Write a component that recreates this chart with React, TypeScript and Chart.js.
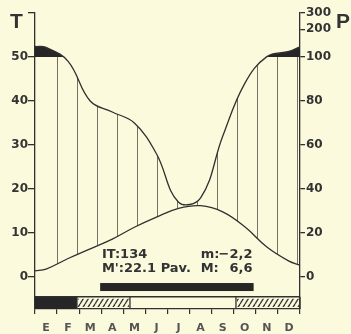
import React, { useEffect, useRef } from "react";
import { Chart, registerables } from "chart.js";

Chart.register(...registerables);

// ---------- data ----------
const months = ["E", "F", "M", "A", "M", "J", "J", "A", "S", "O", "N", "D"];
// positions of the read points on the month axis (0 = start of Jan, 12 = end of Dec)
const pointPos = [0, 0.5, 1.5, 2.5, 3.5, 4.5, 5.5, 6.5, 7.5, 8.5, 9.5, 10.5, 11.5, 12];
// temperature (°C) read at those positions
const temperature = [1.4, 1.8, 4.2, 6.4, 8.6, 11.3, 13.6, 15.6, 16.2, 14.8, 11.4, 6.8, 3.6, 2.7];
// precipitation (mm) read at those positions
const precipitation = [130, 127, 98, 80, 75, 70, 56, 34, 36, 64, 88, 101, 115, 129];
const tempTicks = [0, 10, 20, 30, 40, 50];
const precipTicks = [0, 20, 40, 60, 80, 100, 200, 300];
// bottom strip (month-axis ranges)
const certainFrost: [number, number][] = [[0, 1.9]];
const probableFrost: [number, number][] = [[1.9, 4.3], [9.1, 12]];
const darkBar: [number, number] = [2.95, 9.9];
const statsLeft = ["IT:134", "M':22.1 Pav."];
const statsRight: [string, string][] = [["m:", "\u22122,2"], ["M:", "6,6"]];

// ---------- styles / geometry ----------
const BG = "#fcfadc";
const INK = "#303030";
const TEXT = "#333333";
const HATCH = "rgba(70,70,62,0.75)";
const Y_MIN = -7.2727;
const Y_MAX = 60;
const LOG_STEP = 6.3; // T-units per doubling of precipitation above 100 mm
const BAR_TOP = -1.37;
const BAR_BOTTOM = -3.19;
const BOX_TOP = -4.49;

const pToV = (p: number) => (p <= 100 ? p / 2 : 50 + LOG_STEP * Math.log2(p / 100));

function verticalHatch(): CanvasPattern {
  const c = document.createElement("canvas");
  c.width = 20;
  c.height = 4;
  const g = c.getContext("2d")!;
  g.fillStyle = HATCH;
  g.fillRect(17, 0, 1, 4);
  return g.createPattern(c, "repeat")!;
}

function diagonalHatch(): CanvasPattern {
  const w = 5, h = 8;
  const c = document.createElement("canvas");
  c.width = w;
  c.height = h;
  const g = c.getContext("2d")!;
  g.strokeStyle = "#3a3a3a";
  g.lineWidth = 1.4;
  for (const dx of [-w, 0, w]) {
    g.beginPath();
    g.moveTo(dx, h);
    g.lineTo(dx + w, 0);
    g.stroke();
  }
  return g.createPattern(c, "repeat")!;
}

export default function App() {
  const ref = useRef<HTMLCanvasElement | null>(null);

  useEffect(() => {
    const canvas = ref.current!;
    const vHatch = verticalHatch();
    const dHatch = diagonalHatch();
    const tempPts = pointPos.map((x, i) => ({ x, y: temperature[i] }));
    const precPts = pointPos.map((x, i) => ({ x, y: pToV(precipitation[i]) }));

    const decor = {
      id: "decor",
      afterDraw(chart: any) {
        const { ctx } = chart;
        const xs = chart.scales.x;
        const ys = chart.scales.y;
        const px = (v: number) => xs.getPixelForValue(v);
        const py = (v: number) => ys.getPixelForValue(v);
        ctx.save();
        // dark bar
        ctx.fillStyle = "#262626";
        ctx.fillRect(px(darkBar[0]), py(BAR_TOP), px(darkBar[1]) - px(darkBar[0]), py(BAR_BOTTOM) - py(BAR_TOP));
        // strip
        const top = py(BOX_TOP);
        const bottom = py(Y_MIN);
        ctx.fillStyle = "#262626";
        certainFrost.forEach(([a, b]) => ctx.fillRect(px(a), top, px(b) - px(a), bottom - top));
        probableFrost.forEach(([a, b]) => {
          ctx.fillStyle = dHatch;
          ctx.fillRect(px(a) + 1, top + 2, px(b) - px(a) - 2, bottom - top - 4);
        });
        ctx.strokeStyle = INK;
        ctx.lineWidth = 1.3;
        ctx.beginPath();
        ctx.moveTo(px(0), top);
        ctx.lineTo(px(12), top);
        probableFrost.forEach(([a, b]) => {
          ctx.moveTo(px(a), top);
          ctx.lineTo(px(a), bottom);
          ctx.moveTo(px(b), top);
          ctx.lineTo(px(b), bottom);
        });
        ctx.stroke();

        // texts
        ctx.fillStyle = TEXT;
        ctx.textBaseline = "alphabetic";
        ctx.font = 'bold 13px "DejaVu Sans"';
        ctx.textAlign = "left";
        ctx.fillText(statsLeft[0], px(3.03), py(4.4));
        ctx.fillText(statsLeft[1], px(3.03), py(1.2));
        statsRight.forEach(([k, v], i) => {
          const yy = py(i === 0 ? 4.4 : 1.2);
          ctx.textAlign = "left";
          ctx.fillText(k, px(7.5), yy);
          ctx.textAlign = "right";
          ctx.fillText(v, px(9.85), yy);
        });
        ctx.font = 'bold 21px "Liberation Sans"';
        ctx.textAlign = "left";
        ctx.fillText("T", 10, 28);
        ctx.fillText("P", 336, 28);
        ctx.restore();
      },
    };

    const chart = new Chart(canvas, {
      type: "line",
      data: {
        datasets: [
          {
            label: "T",
            data: tempPts,
            borderColor: INK,
            borderWidth: 1.3,
            pointRadius: 0,
            tension: 0.4,
            fill: false,
          },
          {
            label: "P",
            data: precPts,
            borderColor: INK,
            borderWidth: 1.3,
            pointRadius: 0,
            tension: 0.4,
            fill: { target: { value: 50 }, above: "#262626", below: "rgba(0,0,0,0)" },
          },
          {
            label: "humid",
            data: precPts,
            borderWidth: 0,
            borderColor: "rgba(0,0,0,0)",
            backgroundColor: vHatch,
            pointRadius: 0,
            tension: 0.4,
            fill: 0,
            segment: {
              backgroundColor: (c: any) => (c.p0DataIndex === 0 ? "rgba(0,0,0,0)" : vHatch),
            },
          },
        ],
      },
      options: {
        responsive: false,
        animation: false,
        layout: { padding: { top: 13, left: 0, right: 0, bottom: 0 } },
        plugins: { legend: { display: false }, tooltip: { enabled: false } },
        scales: {
          x: {
            type: "linear",
            min: 0,
            max: 12,
            bounds: "data",
            afterBuildTicks: (s: any) => {
              s.ticks = months.map((_, i) => ({ value: i + 0.5 }));
            },
            afterFit: (s: any) => {
              s.height = 25;
            },
            grid: { offset: true, drawOnChartArea: false, tickLength: 5, color: INK, lineWidth: 1.2 },
            border: { display: true, color: INK, width: 1.3 },
            ticks: {
              autoSkip: false,
              maxRotation: 0,
              padding: 8,
              color: "#555",
              font: { family: "DejaVu Sans", weight: "bold", size: 11 },
              callback: (_v: any, i: number) => months[i],
            },
          },
          y: {
            type: "linear",
            position: "left",
            min: Y_MIN,
            max: Y_MAX,
            bounds: "data",
            afterBuildTicks: (s: any) => {
              s.ticks = [...tempTicks, Y_MAX].map((value) => ({ value }));
            },
            afterFit: (s: any) => {
              s.width = 35;
            },
            grid: { drawOnChartArea: false, tickLength: 7, color: INK, lineWidth: 1.3 },
            border: { display: true, color: INK, width: 1.3 },
            ticks: {
              autoSkip: false,
              padding: 0,
              color: TEXT,
              font: { family: "DejaVu Sans", weight: "bold", size: 12 },
              callback: (_v: any, i: number) => (i < tempTicks.length ? String(tempTicks[i]) : ""),
            },
          },
          y2: {
            type: "linear",
            position: "right",
            min: Y_MIN,
            max: Y_MAX,
            bounds: "data",
            afterBuildTicks: (s: any) => {
              s.ticks = precipTicks.map((p) => ({ value: pToV(p) }));
            },
            afterFit: (s: any) => {
              s.width = 51;
            },
            grid: { drawOnChartArea: false, tickLength: 5, color: INK, lineWidth: 1.3 },
            border: { display: true, color: INK, width: 1.3 },
            ticks: {
              autoSkip: false,
              padding: 1,
              color: TEXT,
              font: { family: "DejaVu Sans", weight: "bold", size: 12 },
              callback: (_v: any, i: number) => String(precipTicks[i]),
            },
          },
        },
      },
      plugins: [decor],
    } as any);

    return () => chart.destroy();
  }, []);

  return (
    <div style={{ position: "fixed", left: 0, top: 0, width: 351, height: 334, background: BG }}>
      <canvas ref={ref} width={351} height={334} style={{ width: 351, height: 334, display: "block" }} />
    </div>
  );
}
